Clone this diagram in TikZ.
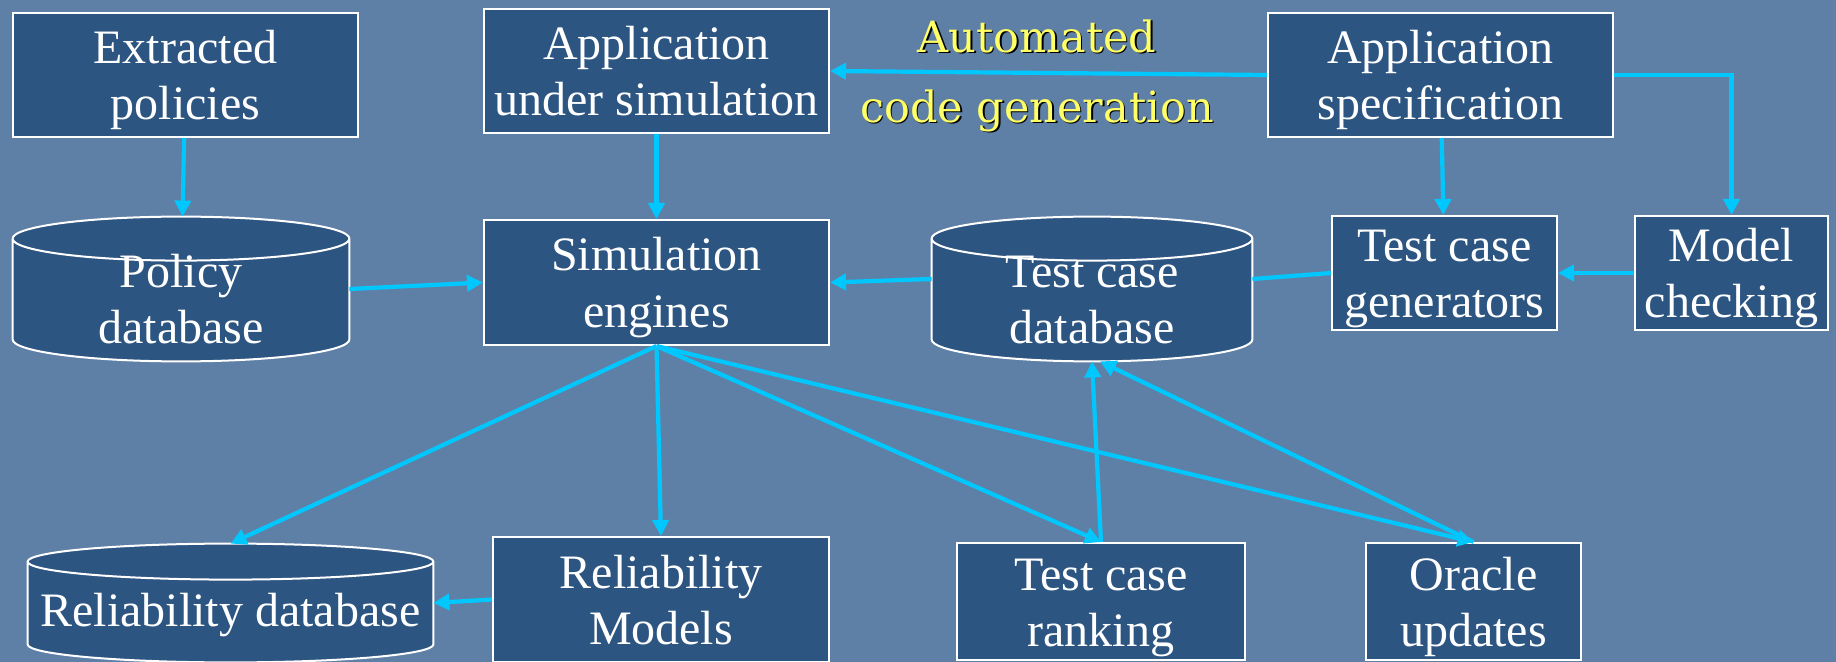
\documentclass[tikz,border=0pt]{standalone}
\usepackage{fontspec}
\setmainfont{Liberation Serif}
\newfontfamily\dvserif{DejaVu Serif}
\usetikzlibrary{arrows.meta,calc,positioning}
\definecolor{hatter}{RGB}{95,128,166}
\definecolor{doboz}{RGB}{45,85,130}
\definecolor{kek}{RGB}{0,200,255}
\definecolor{sarga}{RGB}{255,255,102}
\tikzset{
  szoveg/.style={text=white,align=center,inner sep=0pt,font=\fontsize{24}{28.25}\selectfont,
    text height=51pt,text depth=6pt},
  dob/.style={szoveg,draw=white,line width=1pt,fill=doboz},
  tar/.style={inner sep=0pt},
  henger/.style={draw=white,line width=1pt,fill=doboz},
  nyil/.style={draw=kek,line width=2.1pt,-{Triangle[length=8pt,width=8pt]}},
  vonal/.style={draw=kek,line width=2.1pt},
  felirat/.style={align=center,inner sep=0pt,font=\dvserif\fontsize{21.5}{35}\selectfont},
}
% cylinder drawn in the box of a node: #1 node, #2 half height of the ellipse
\newcommand\henger[2]{%
  \path[henger] let \p1=(#1.north west), \p2=(#1.south east), \n1={(\x2-\x1)/2} in
    (\x1,\y1-#2) -- (\x1,\y2+#2)
      arc[start angle=180,end angle=360,x radius=\n1,y radius=#2]
      -- (\x2,\y1-#2)
      arc[start angle=0,end angle=180,x radius=\n1,y radius=#2] -- cycle
    (\x1,\y1-#2) arc[start angle=180,end angle=360,x radius=\n1,y radius=#2];}

\begin{document}
\begin{tikzpicture}[x=0.5pt,y=0.5pt]
  \useasboundingbox (0,0) rectangle (1836,-662);
  \clip (0,0) rectangle (1836,-662);
  \fill[hatter] (0,0) rectangle (1836,-662);

  % top row
  \node[dob,minimum width=172.5pt,minimum height=62pt] (ext) at (185.5,-75) {Extracted\\policies};
  \node[dob,minimum width=172.5pt,minimum height=62pt] (appsim) at (656.5,-71) {Application\\under simulation};
  \node[dob,minimum width=172.5pt,minimum height=62pt] (appspec) at (1440.5,-75) {Application\\specification};
  \node[felirat,text=black] (autoar) at (1038.5,-77) {Automated\\code generation};
  \node[felirat,text=sarga] (auto) at (1037,-75.5) {Automated\\code generation};

  % middle row
  \node[tar,minimum width=168pt,minimum height=72pt] (poldb) at (181,-289) {};
  \henger{poldb}{11pt}
  \node[szoveg] (poldbt) at ([yshift=-4.75pt]poldb.center) {Policy\\database};
  \node[dob,minimum width=172.5pt,minimum height=62.5pt] (sim) at (656.5,-282.5) {Simulation\\engines};
  \node[tar,minimum width=160pt,minimum height=72pt] (tcdb) at (1092,-289) {};
  \henger{tcdb}{11pt}
  \node[szoveg] (tcdbt) at ([yshift=-4.75pt]tcdb.center) {Test case\\database};
  \node[dob,minimum width=112.5pt,minimum height=56pt] (gen) at (1444.5,-273) {Test case\\generators};
  \node[dob,minimum width=96.5pt,minimum height=56pt] (model) at (1731.5,-273) {Model\\checking};

  % bottom row
  \node[tar,minimum width=202.5pt,minimum height=59pt] (reldb) at (230.5,-603) {};
  \henger{reldb}{9pt}
  \node[szoveg,text height=22.75pt] (reldbt) at ([yshift=-3.6pt]reldb.center) {Reliability database};
  \node[dob,minimum width=168pt,minimum height=62.5pt] (relmod) at (661,-599.5) {Reliability\\Models};
  \node[dob,minimum width=144pt,minimum height=58.5pt] (rank) at (1101,-601.5) {Test case\\ranking};
  \node[dob,minimum width=107.5pt,minimum height=58.5pt] (oracle) at (1473.5,-601.5) {Oracle\\updates};

  % connectors
  \draw[nyil] (ext) -- (poldb);
  \draw[nyil] (appsim) -- (sim);
  \draw[nyil] (appspec.west) -- (appsim.east);
  \draw[nyil] (appspec) -- (gen);
  \draw[nyil] (appspec.east) -| (model.north);
  \draw[nyil] (model) -- (gen);
  \draw[vonal] (gen.west) -- ([yshift=5pt]tcdb.east);
  \draw[nyil] ([yshift=5pt]tcdb.west) -- (sim.east);
  \draw[nyil] (poldb.east) -- (sim.west);
  \draw[nyil] (sim.south) -- (reldb.north);
  \draw[nyil] (sim.south) -- (relmod.north);
  \draw[nyil] (sim.south) -- (rank.north);
  \draw[nyil] (sim.south) -- (oracle.north);
  \draw[nyil] (rank.north) -- (tcdb.south);
  \draw[nyil] (oracle.north) -- ([xshift=4pt]tcdb.south);
  \draw[nyil] (relmod.west) -- (reldb.east);
\end{tikzpicture}
\end{document}
